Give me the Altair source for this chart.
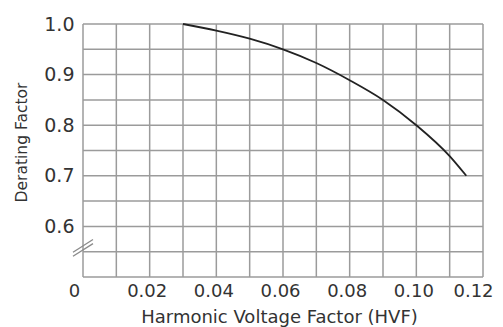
import altair as alt
import pandas as pd

# Curve
hvf = [0.03, 0.04, 0.05, 0.06, 0.07, 0.08, 0.09, 0.10, 0.11, 0.115]
derating = [1.0, 0.987, 0.971, 0.950, 0.923, 0.889, 0.850, 0.800, 0.739, 0.700]

# Axes: grid positions and labelled ticks
x_grid = [0.00, 0.01, 0.02, 0.03, 0.04, 0.05, 0.06, 0.07, 0.08, 0.09, 0.10, 0.11, 0.12]
x_label_values = [0.00, 0.02, 0.04, 0.06, 0.08, 0.10, 0.12]
x_label_text = ["0", "0.02", "0.04", "0.06", "0.08", "0.10", "0.12"]
y_grid = [0.50, 0.55, 0.60, 0.65, 0.70, 0.75, 0.80, 0.85, 0.90, 0.95, 1.00]
y_label_values = [0.6, 0.7, 0.8, 0.9, 1.0]
y_label_text = ["0.6", "0.7", "0.8", "0.9", "1.0"]

# Axis-break symbol (two short slashes across the y axis), in data units
break_x1 = [-0.003, -0.003]
break_y1 = [0.541, 0.549]
break_x2 = [0.003, 0.003]
break_y2 = [0.566, 0.574]


def label_expr(values, texts):
    expr = "''"
    for v, t in reversed(list(zip(values, texts))):
        expr = f"abs(datum.value - {v}) < 0.0001 ? '{t}' : ({expr})"
    return expr


curve = pd.DataFrame({"hvf": hvf, "derating": derating})
brk = pd.DataFrame({"x1": break_x1, "y1": break_y1, "x2": break_x2, "y2": break_y2})
xg = pd.DataFrame({"xg": x_grid})
yg = pd.DataFrame({"yg": y_grid})

FONT = "DejaVu Sans"
TXT = "#333333"
GRID = "#9b9b9b"

x_scale = alt.Scale(domain=[0, 0.12], nice=False, zero=False)
y_scale = alt.Scale(domain=[0.5, 1.0], nice=False, zero=False)

x_axis = alt.Axis(
    values=x_label_values,
    labelExpr=label_expr(x_label_values, x_label_text),
    title="Harmonic Voltage Factor (HVF)",
    titleFont=FONT,
    titleFontSize=18,
    titleFontWeight="normal",
    titleColor=TXT,
    titleX=196,
    titleY=45,
    titleBaseline="alphabetic",
    titleAlign="center",
    labelFont=FONT,
    labelFontSize=18,
    labelColor=TXT,
    labelPadding=5,
    labelOffset={
        "condition": [
            {"test": "datum.value < 0.001", "value": -9},
            {"test": "datum.value > 0.119", "value": -10},
        ],
        "value": -3,
    },
    labelOverlap=False,
    labelFlush=False,
    domain=False,
    ticks=False,
    grid=False,
)

y_axis = alt.Axis(
    values=y_label_values,
    labelExpr=label_expr(y_label_values, y_label_text),
    title="Derating Factor",
    titleFont=FONT,
    titleFontSize=15.5,
    titleFontWeight="normal",
    titleColor=TXT,
    titleX=-62,
    titleY=118,
    titleAlign="center",
    titleBaseline="middle",
    titleAngle=270,
    labelFont=FONT,
    labelFontSize=19,
    labelColor=TXT,
    labelPadding=9,
    labelOverlap=False,
    labelFlush=False,
    domain=False,
    ticks=False,
    grid=False,
)

vgrid = alt.Chart(xg).mark_rule(color=GRID, strokeWidth=1.5).encode(
    x=alt.X("xg:Q", scale=x_scale, axis=x_axis)
)
hgrid = alt.Chart(yg).mark_rule(color=GRID, strokeWidth=1.5).encode(
    y=alt.Y("yg:Q", scale=y_scale, axis=y_axis)
)

line = alt.Chart(curve).mark_line(
    color="#222222", strokeWidth=1.8, interpolate="monotone"
).encode(
    x=alt.X("hvf:Q", scale=x_scale, axis=x_axis),
    y=alt.Y("derating:Q", scale=y_scale, axis=y_axis),
)

breaks = alt.Chart(brk).mark_rule(color="#8a8a8a", strokeWidth=1.3).encode(
    x=alt.X("x1:Q", scale=x_scale, axis=x_axis),
    y=alt.Y("y1:Q", scale=y_scale, axis=y_axis),
    x2="x2:Q",
    y2="y2:Q",
)

chart = (
    alt.layer(vgrid, hgrid, line, breaks)
    .properties(
        width=400,
        height=253,
        autosize=alt.AutoSizeParams(type="none"),
        padding={"left": 75, "top": 16, "right": 12, "bottom": 50},
        background="white",
    )
    .configure_view(strokeWidth=0)
)

chart.save("out.html", embed_options={"renderer": "svg", "actions": False})
